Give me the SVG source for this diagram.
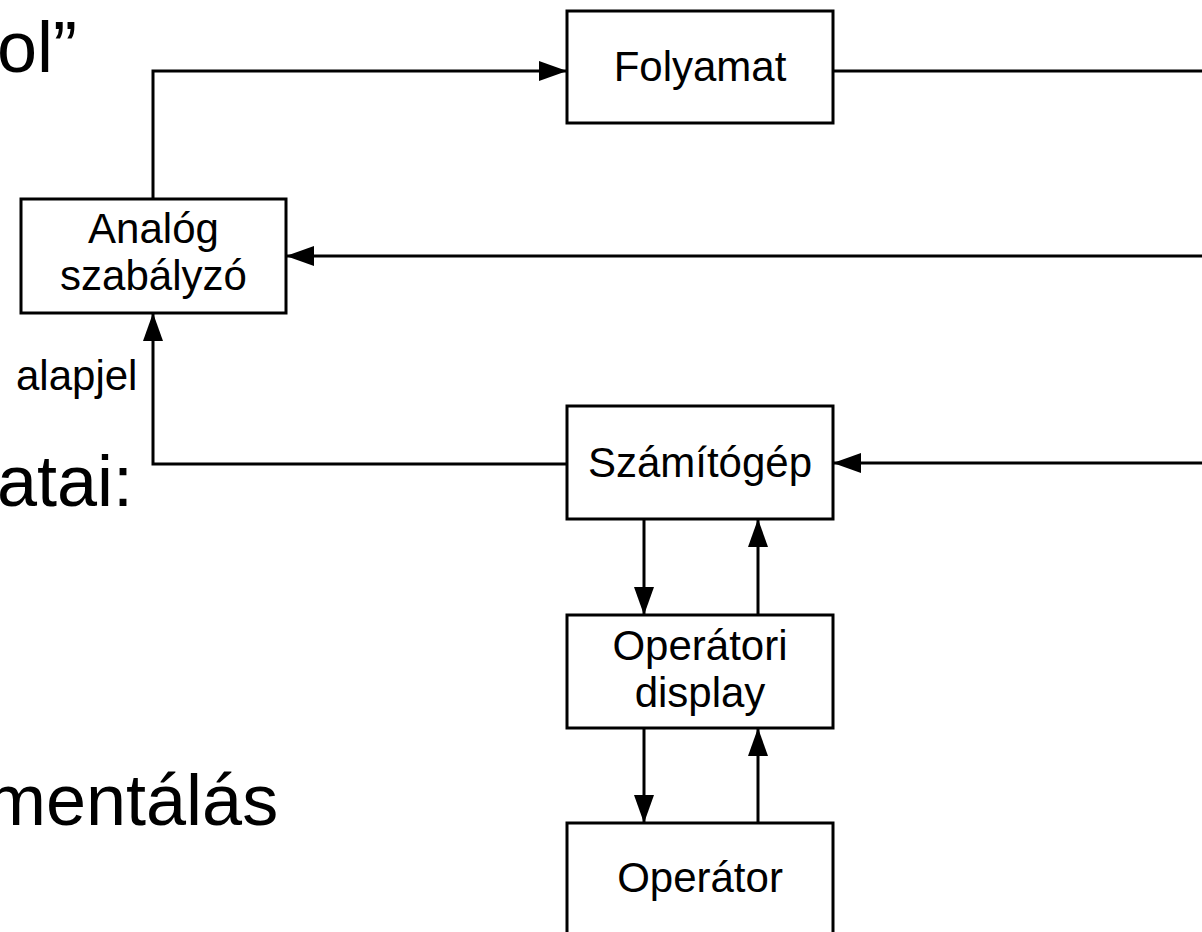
<svg xmlns="http://www.w3.org/2000/svg" width="1202" height="932" viewBox="0 0 1202 932">
<style>
.box{fill:#fff;stroke:#000;stroke-width:3}
.lbl{font-family:"Liberation Sans",Arial,sans-serif;font-size:42px;fill:#000;text-anchor:middle}
.slide{font-family:"Liberation Sans",Arial,sans-serif;font-size:72px;fill:#000}
.wire{fill:none;stroke:#000;stroke-width:3}
</style>
<defs>
<marker id="arr" markerUnits="userSpaceOnUse" markerWidth="28" markerHeight="20" refX="28" refY="10" orient="auto">
<path d="M0,0 L28,10 L0,20 z" fill="#000"/>
</marker>
</defs>
<rect width="1202" height="932" fill="#fff"/>
<g id="slide-text">
<text class="slide" x="-3" y="72">ol”</text>
<text class="slide" x="-3" y="506">atai:</text>
<text class="slide" x="-14" y="825">mentálás</text>
</g>
<g id="connectors">
<polyline class="wire" points="153,198 153,71 567,71" marker-end="url(#arr)"/>
<line class="wire" x1="833" y1="71" x2="1202" y2="71"/>
<line class="wire" x1="1202" y1="256" x2="286" y2="256" marker-end="url(#arr)"/>
<polyline class="wire" points="567,464 153,464 153,313" marker-end="url(#arr)"/>
<line class="wire" x1="1202" y1="463" x2="833" y2="463" marker-end="url(#arr)"/>
<line class="wire" x1="644" y1="519" x2="644" y2="615" marker-end="url(#arr)"/>
<line class="wire" x1="758" y1="615" x2="758" y2="519" marker-end="url(#arr)"/>
<line class="wire" x1="644" y1="728" x2="644" y2="823" marker-end="url(#arr)"/>
<line class="wire" x1="758" y1="823" x2="758" y2="728" marker-end="url(#arr)"/>
<text x="16" y="390" style="font-family:'Liberation Sans',Arial,sans-serif;font-size:42px;fill:#000">alapjel</text>
</g>
<g id="folyamat">
<rect class="box" x="567" y="11" width="266" height="112"/>
<text class="lbl" x="700" y="81">Folyamat</text>
</g>
<g id="analog">
<rect class="box" x="21" y="199" width="265" height="114"/>
<text class="lbl" x="153.5" y="243">Analóg</text>
<text class="lbl" x="153.5" y="290">szabályzó</text>
</g>
<g id="szamitogep">
<rect class="box" x="567" y="406" width="266" height="113"/>
<text class="lbl" x="700" y="477">Számítógép</text>
</g>
<g id="operatori-display">
<rect class="box" x="567" y="615" width="266" height="113"/>
<text class="lbl" x="700" y="660">Operátori</text>
<text class="lbl" x="700" y="707">display</text>
</g>
<g id="operator">
<rect class="box" x="567" y="823" width="266" height="150"/>
<text class="lbl" x="700" y="892">Operátor</text>
</g>
</svg>
